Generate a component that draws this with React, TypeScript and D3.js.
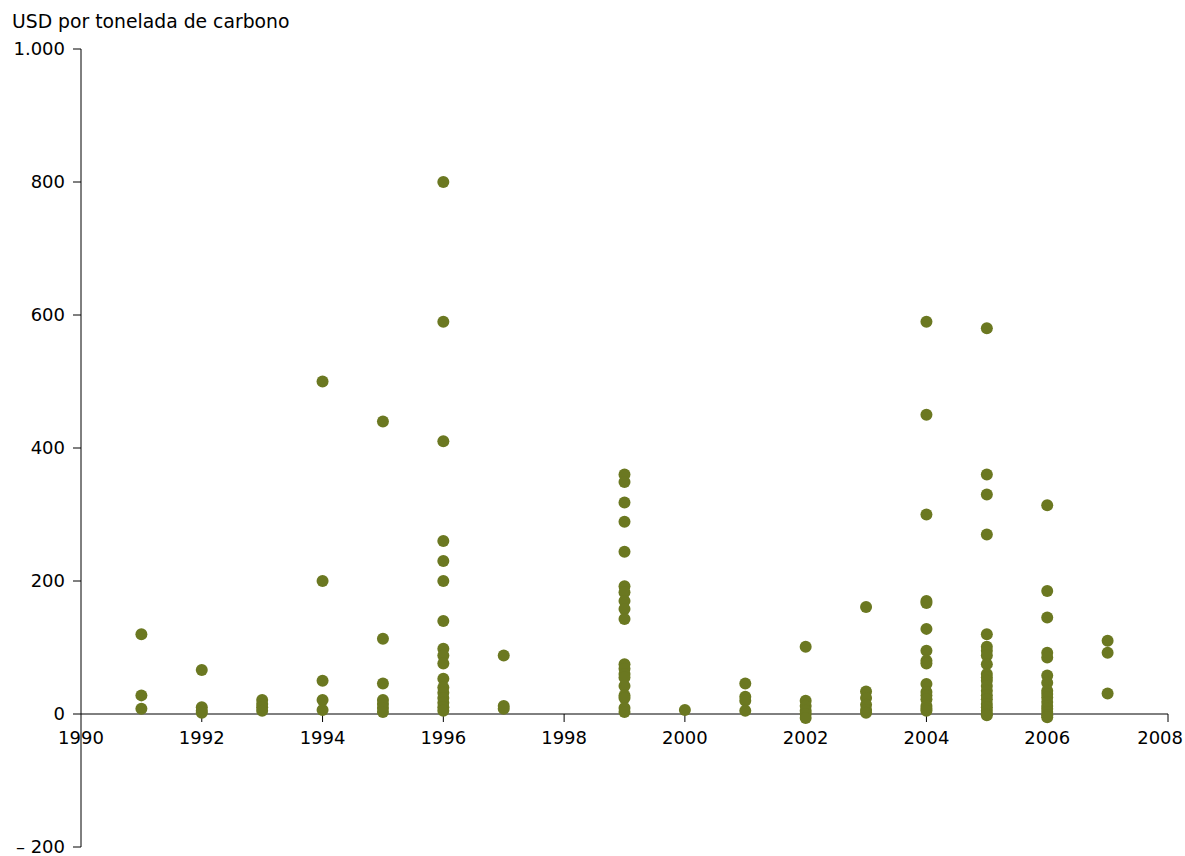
import React from "react";
import * as d3 from "d3";

const years = [1991, 1992, 1993, 1994, 1995, 1996, 1997, 1999, 2000, 2001, 2002, 2003, 2004, 2005, 2006, 2007];

const values1991 = [120, 28, 8];
const values1992 = [66, 10, 5, 2];
const values1993 = [21, 15, 10, 5];
const values1994 = [500, 200, 50, 21, 6];
const values1995 = [440, 113, 46, 21, 15, 9, 3];
const values1996 = [800, 590, 410, 260, 230, 200, 140, 98, 88, 76, 53, 40, 32, 24, 17, 10, 5];
const values1997 = [88, 12, 8];
const values1999 = [360, 349, 318, 289, 244, 192, 183, 170, 158, 143, 75, 68, 60, 55, 42, 28, 24, 9, 3];
const values2000 = [6];
const values2001 = [46, 26, 20, 5];
const values2002 = [101, 20, 12, 5, 0, -6];
const values2003 = [161, 34, 24, 14, 6, 2];
const values2004 = [590, 450, 300, 170, 167, 128, 95, 80, 76, 45, 33, 28, 22, 12, 8, 5];
const values2005 = [580, 360, 330, 270, 120, 101, 95, 88, 75, 60, 55, 50, 42, 35, 28, 22, 15, 10, 5, 0, -2];
const values2006 = [314, 185, 145, 92, 85, 58, 47, 35, 30, 25, 18, 12, 8, 3, -2, -5];
const values2007 = [110, 92, 31];

const seriesByYear = [
  values1991, values1992, values1993, values1994, values1995, values1996, values1997,
  values1999, values2000, values2001, values2002, values2003, values2004, values2005,
  values2006, values2007,
];

const xTicks = [1990, 1992, 1994, 1996, 1998, 2000, 2002, 2004, 2006, 2008];
const yTicks = [1000, 800, 600, 400, 200, 0, -200];
const yTickLabels = ["1.000", "800", "600", "400", "200", "0", "\u2013 200"];

const W = 1185;
const H = 856;
const FONT = "'DejaVu Sans', Verdana, sans-serif";
const FS = 18;
const COLOR = "#6b7821";

export default function App() {
  const x = d3.scaleLinear().domain([1990, 2008]).range([81, 1168]);
  const y = d3.scaleLinear().domain([-200, 1000]).range([847, 49]);

  const points: { yr: number; v: number }[] = [];
  years.forEach((yr, i) => seriesByYear[i].forEach((v) => points.push({ yr, v })));

  return (
    <svg width={W} height={H} style={{ position: "absolute", left: 0, top: 0, background: "#fff" }} fontFamily={FONT}>
      <text x={12} y={28} fontSize={18.8} fill="#000">USD por tonelada de carbono</text>
      {/* y axis */}
      <line x1={x(1990)} x2={x(1990)} y1={y(1000)} y2={y(-200)} stroke="#000" strokeWidth={1} />
      {yTicks.map((t, i) => (
        <g key={t}>
          <line x1={x(1990) - 8} x2={x(1990)} y1={y(t)} y2={y(t)} stroke="#000" strokeWidth={1} />
          <text x={x(1990) - 16} y={y(t)} dy="0.36em" textAnchor="end" fontSize={FS} fill="#000">
            {yTickLabels[i]}
          </text>
        </g>
      ))}
      {/* x axis */}
      <line x1={x(1990)} x2={x(2008)} y1={y(0)} y2={y(0)} stroke="#000" strokeWidth={1} />
      {xTicks.map((t) => (
        <g key={t}>
          {t !== 1990 && (
            <line x1={x(t)} x2={x(t)} y1={y(0)} y2={y(0) + 8} stroke="#000" strokeWidth={1} />
          )}
          <text
            x={t === 2008 ? W - 2 : x(t)}
            y={y(0) + 30}
            textAnchor={t === 2008 ? "end" : "middle"}
            fontSize={FS}
            fill="#000"
          >
            {t}
          </text>
        </g>
      ))}
      {points.map((p, i) => (
        <circle key={i} cx={x(p.yr)} cy={y(p.v)} r={6} fill={COLOR} />
      ))}
    </svg>
  );
}
